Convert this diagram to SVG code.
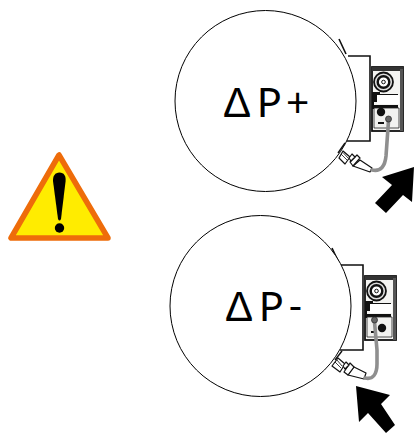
<svg xmlns="http://www.w3.org/2000/svg" width="414" height="434" viewBox="0 0 414 434">
<style>
.c{fill:#fff;stroke:#000;stroke-width:1}
.l{font-family:"Lato","Liberation Sans",sans-serif;font-size:40px;font-weight:400;fill:#000}
.d{font-family:"Liberation Sans",sans-serif;font-size:42px}
.h{fill:#fff;stroke:#111;stroke-width:1.2;stroke-linejoin:round}
.tube{fill:none;stroke:#8f8f8f;stroke-width:3.6;stroke-linecap:round}
.k{fill:#111}
.end{fill:#666;stroke:#222;stroke-width:.7}
</style>
<defs>
<g id="actuator">
<path d="M19 -22 L26 -7 M28 -5 H50 V80 H27" fill="none" stroke="#111" stroke-width="1.600"/>
<rect x="52" y="6" width="31" height="64" fill="#f4f4f2" stroke="#111" stroke-width="1.800"/>
<rect x="52" y="6" width="31" height="4" fill="#333"/>
<rect x="80" y="8" width="3" height="62" fill="#555"/>
<circle cx="63.500" cy="21" r="9.500" fill="#ddd" stroke="#111" stroke-width="1.800"/>
<circle cx="63.500" cy="21" r="5.800" fill="#fff" stroke="#111" stroke-width="2.400"/>
<circle cx="63.500" cy="21" r="1.800" fill="#fff" stroke="#111" stroke-width="1"/>
<path d="M52 31 H60 V33 H78 V36 H60 V41 H54 V46 H52 Z" class="k"/>
<rect x="57" y="34" width="22" height="9" fill="#fff"/>
<path d="M52 44 H78 V48 H52 Z" class="k"/>
<path d="M54 47 H79 V67 H54 Z" fill="#f2f2f0" stroke="#222" stroke-width=".8"/>
</g>
<path id="warnmark" d="M59.500 172.500 C64 172.500 66 176 65.600 181 L61 219 Q59.500 222 58 219 L53 181 C52.800 176 55 172.500 59.500 172.500 Z"/>
</defs>

<g id="connectors"></g>

<g id="warning">
<path d="M59 155 L11 238 H108 Z" fill="#ffec00" stroke="#ee6c0a" stroke-width="5.500" stroke-linejoin="round"/>
<use href="#warnmark" fill="#000"/>
<circle cx="59.500" cy="228" r="4.700" fill="#000"/>
</g>

<g id="node-dp-plus">
<use href="#actuator" x="320" y="61"/>
<circle class="c" cx="265.500" cy="101" r="90.500"/>
<circle cx="381" cy="112" r="4.200" class="k"/>
<rect x="378" y="122" width="6" height="2" class="k"/>
<path d="M345 143 L338 153" stroke="#111" stroke-width="1.400" fill="none"/>
<path d="M343 151 L350 157 L345 164 L339 158 Z" class="h"/>
<path d="M341 154 L347 160 M343 152.500 L348 158" stroke="#111" stroke-width=".8"/>
<path d="M360 160 L372 168 L370 172 L353 166 Z" class="h"/>
<path d="M357 155 L360 158 L353 166 L350 162 Z" class="h"/>
<path d="M349 158 L352 154 L355 157 L351 161 Z" class="h"/>
<path d="M372 170 C381 172 385 166 386 156 L388.500 121" class="tube"/>
<circle cx="388.500" cy="119" r="3" class="end"/>
<text class="l" x="223 250 257 278 286" y="117" xml:space="preserve"><tspan class="d">Δ</tspan> P +</text>
<path d="M414 167 L382 177 L392 185 L375 203 L386 213 L403 195 L412 202 Z" fill="#000"/>
</g>

<g id="node-dp-minus">
<use href="#actuator" x="313" y="270"/>
<circle class="c" cx="260.500" cy="306" r="90.500"/>
<circle cx="382" cy="328" r="4.200" class="k"/>
<rect x="371" y="331" width="6" height="2" class="k"/>
<path d="M342 351 L335 360" stroke="#111" stroke-width="1.400" fill="none"/>
<path d="M338 358 L345 364 L340 372 L332 366 Z" class="h"/>
<path d="M335 362 L341 368 M337 360 L342 366" stroke="#111" stroke-width=".8"/>
<path d="M354 367 L366 373 L364 379 L348 375 Z" class="h"/>
<path d="M350 363 L354 367 L348 375 L344 372 Z" class="h"/>
<path d="M343 366 L346 362 L349 365 L345 369 Z" class="h"/>
<path d="M365 378 C373 380 377 374 377 364 L377 350 L374.500 322" class="tube"/>
<circle cx="374.500" cy="320" r="3" class="end"/>
<text class="l" x="225 252 259 280 288" y="321" xml:space="preserve"><tspan class="d">Δ</tspan> P -</text>
<path d="M356 386 L390 395 L381 404 L395 425 L386 433 L368 413 L359 422 Z" fill="#000"/>
</g>
</svg>
